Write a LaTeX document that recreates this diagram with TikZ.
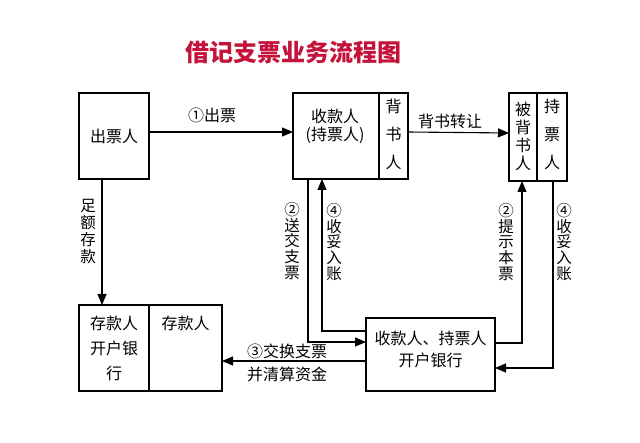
\documentclass[tikz,border=0pt]{standalone}
\usepackage{fontspec}
\newfontfamily\cjk{Noto Sans CJK SC}
\usetikzlibrary{arrows.meta}
\definecolor{titlered}{RGB}{196,18,58}
\begin{document}
\begin{tikzpicture}[x=1pt,y=-1pt,
  box/.style={draw,line width=1.1pt,rectangle,inner sep=0pt,outer sep=0pt},
  txt/.style={font=\cjk\fontsize{16}{18}\selectfont,inner sep=0pt,align=center},
  vtxt/.style={font=\cjk\fontsize{15.5}{15.6}\selectfont,inner sep=0pt,align=center},
  conn/.style={line width=1.1pt,-{Triangle[length=11pt,width=9pt]}},
  plain/.style={line width=1.1pt}]
\useasboundingbox[fill=white] (0,0) rectangle (640,443);
% title
\node[font=\cjk\bfseries\fontsize{24}{26}\selectfont,text=titlered,inner sep=0pt] (title) at (293,52) {借记支票业务流程图};
% boxes
\node[box,minimum width=70pt,minimum height=86pt] (drawer) at (114,136) {};
\node[txt] (drawertxt) at (114,136) {出票人};
\node[box,minimum width=86pt,minimum height=86pt] (payee) at (336,136) {};
\node[txt] (payeetxt) at (335,126) {收款人\\(持票人)};
\node[box,minimum width=29pt,minimum height=86pt] (endorser) at (393.5,136) {};
\node[txt,font=\cjk\fontsize{16}{28}\selectfont] (endorsertxt) at (393.5,134) {背\\书\\人};
\node[box,minimum width=28pt,minimum height=88pt] (endorsee) at (523,137) {};
\node[txt,font=\cjk\fontsize{16}{18}\selectfont] (endorseetxt) at (523,136) {被\\背\\书\\人};
\node[box,minimum width=30pt,minimum height=88pt] (holder) at (552,137) {};
\node[txt,font=\cjk\fontsize{16}{28}\selectfont] (holdertxt) at (552,134) {持\\票\\人};
\node[box,minimum width=70pt,minimum height=86pt] (depbank) at (114,348) {};
\node[txt,font=\cjk\fontsize{16}{25}\selectfont] (depbanktxt) at (114,348) {存款人\\开户银\\行};
\node[box,minimum width=73pt,minimum height=86pt] (depositor) at (185.5,348) {};
\node[txt] (depositortxt) at (185.5,323) {存款人};
\node[box,minimum width=129pt,minimum height=73pt] (bank) at (430.5,354.5) {};
\node[txt,font=\cjk\fontsize{16}{22}\selectfont] (banktxt) at (430.5,349) {收款人、持票人\\开户银行};
% coordinates
\coordinate (c2a) at (308,342);
\coordinate (c4a) at (322,331);
\coordinate (c2b) at (522,343);
\coordinate (c4b) at (553,368);
% connectors
\draw[conn] ([yshift=4pt]drawer.east) -- ([yshift=4pt]payee.west);
\draw[conn] ([yshift=4pt]endorser.east) -- ([yshift=4pt]endorsee.west);
\draw[conn] (drawer.south -| 102,0) -- (depbank.north -| 102,0);
\draw[conn] (payee.south -| c2a) -- (c2a) -- (bank.west |- c2a);
\draw[conn] (bank.west |- c4a) -- (c4a) -- (payee.south -| c4a);
\draw[conn] (bank.west |- 0,361) -- (depositor.east |- 0,361);
\draw[conn] (bank.east |- c2b) -- (c2b) -- (endorsee.south -| c2b);
\draw[conn] (holder.south -| c4b) -- (c4b) -- (bank.east |- c4b);
% labels
\node[txt] (l1) at (212,115) {①出票};
\node[txt] (l5) at (450,121) {背书转让};
\node[vtxt,font=\cjk\fontsize{15.5}{17}\selectfont] (l0) at (88,231) {足\\额\\存\\款};
\node[vtxt] (l2a) at (292,241) {②\\送\\交\\支\\票};
\node[vtxt] (l4a) at (334,242) {④\\收\\妥\\入\\账};
\node[vtxt] (l2b) at (506,242) {②\\提\\示\\本\\票};
\node[vtxt] (l4b) at (564,242) {④\\收\\妥\\入\\账};
\node[txt] (l3a) at (287,351) {③交换支票};
\node[txt] (l3b) at (287,374) {并清算资金};
\end{tikzpicture}
\end{document}
